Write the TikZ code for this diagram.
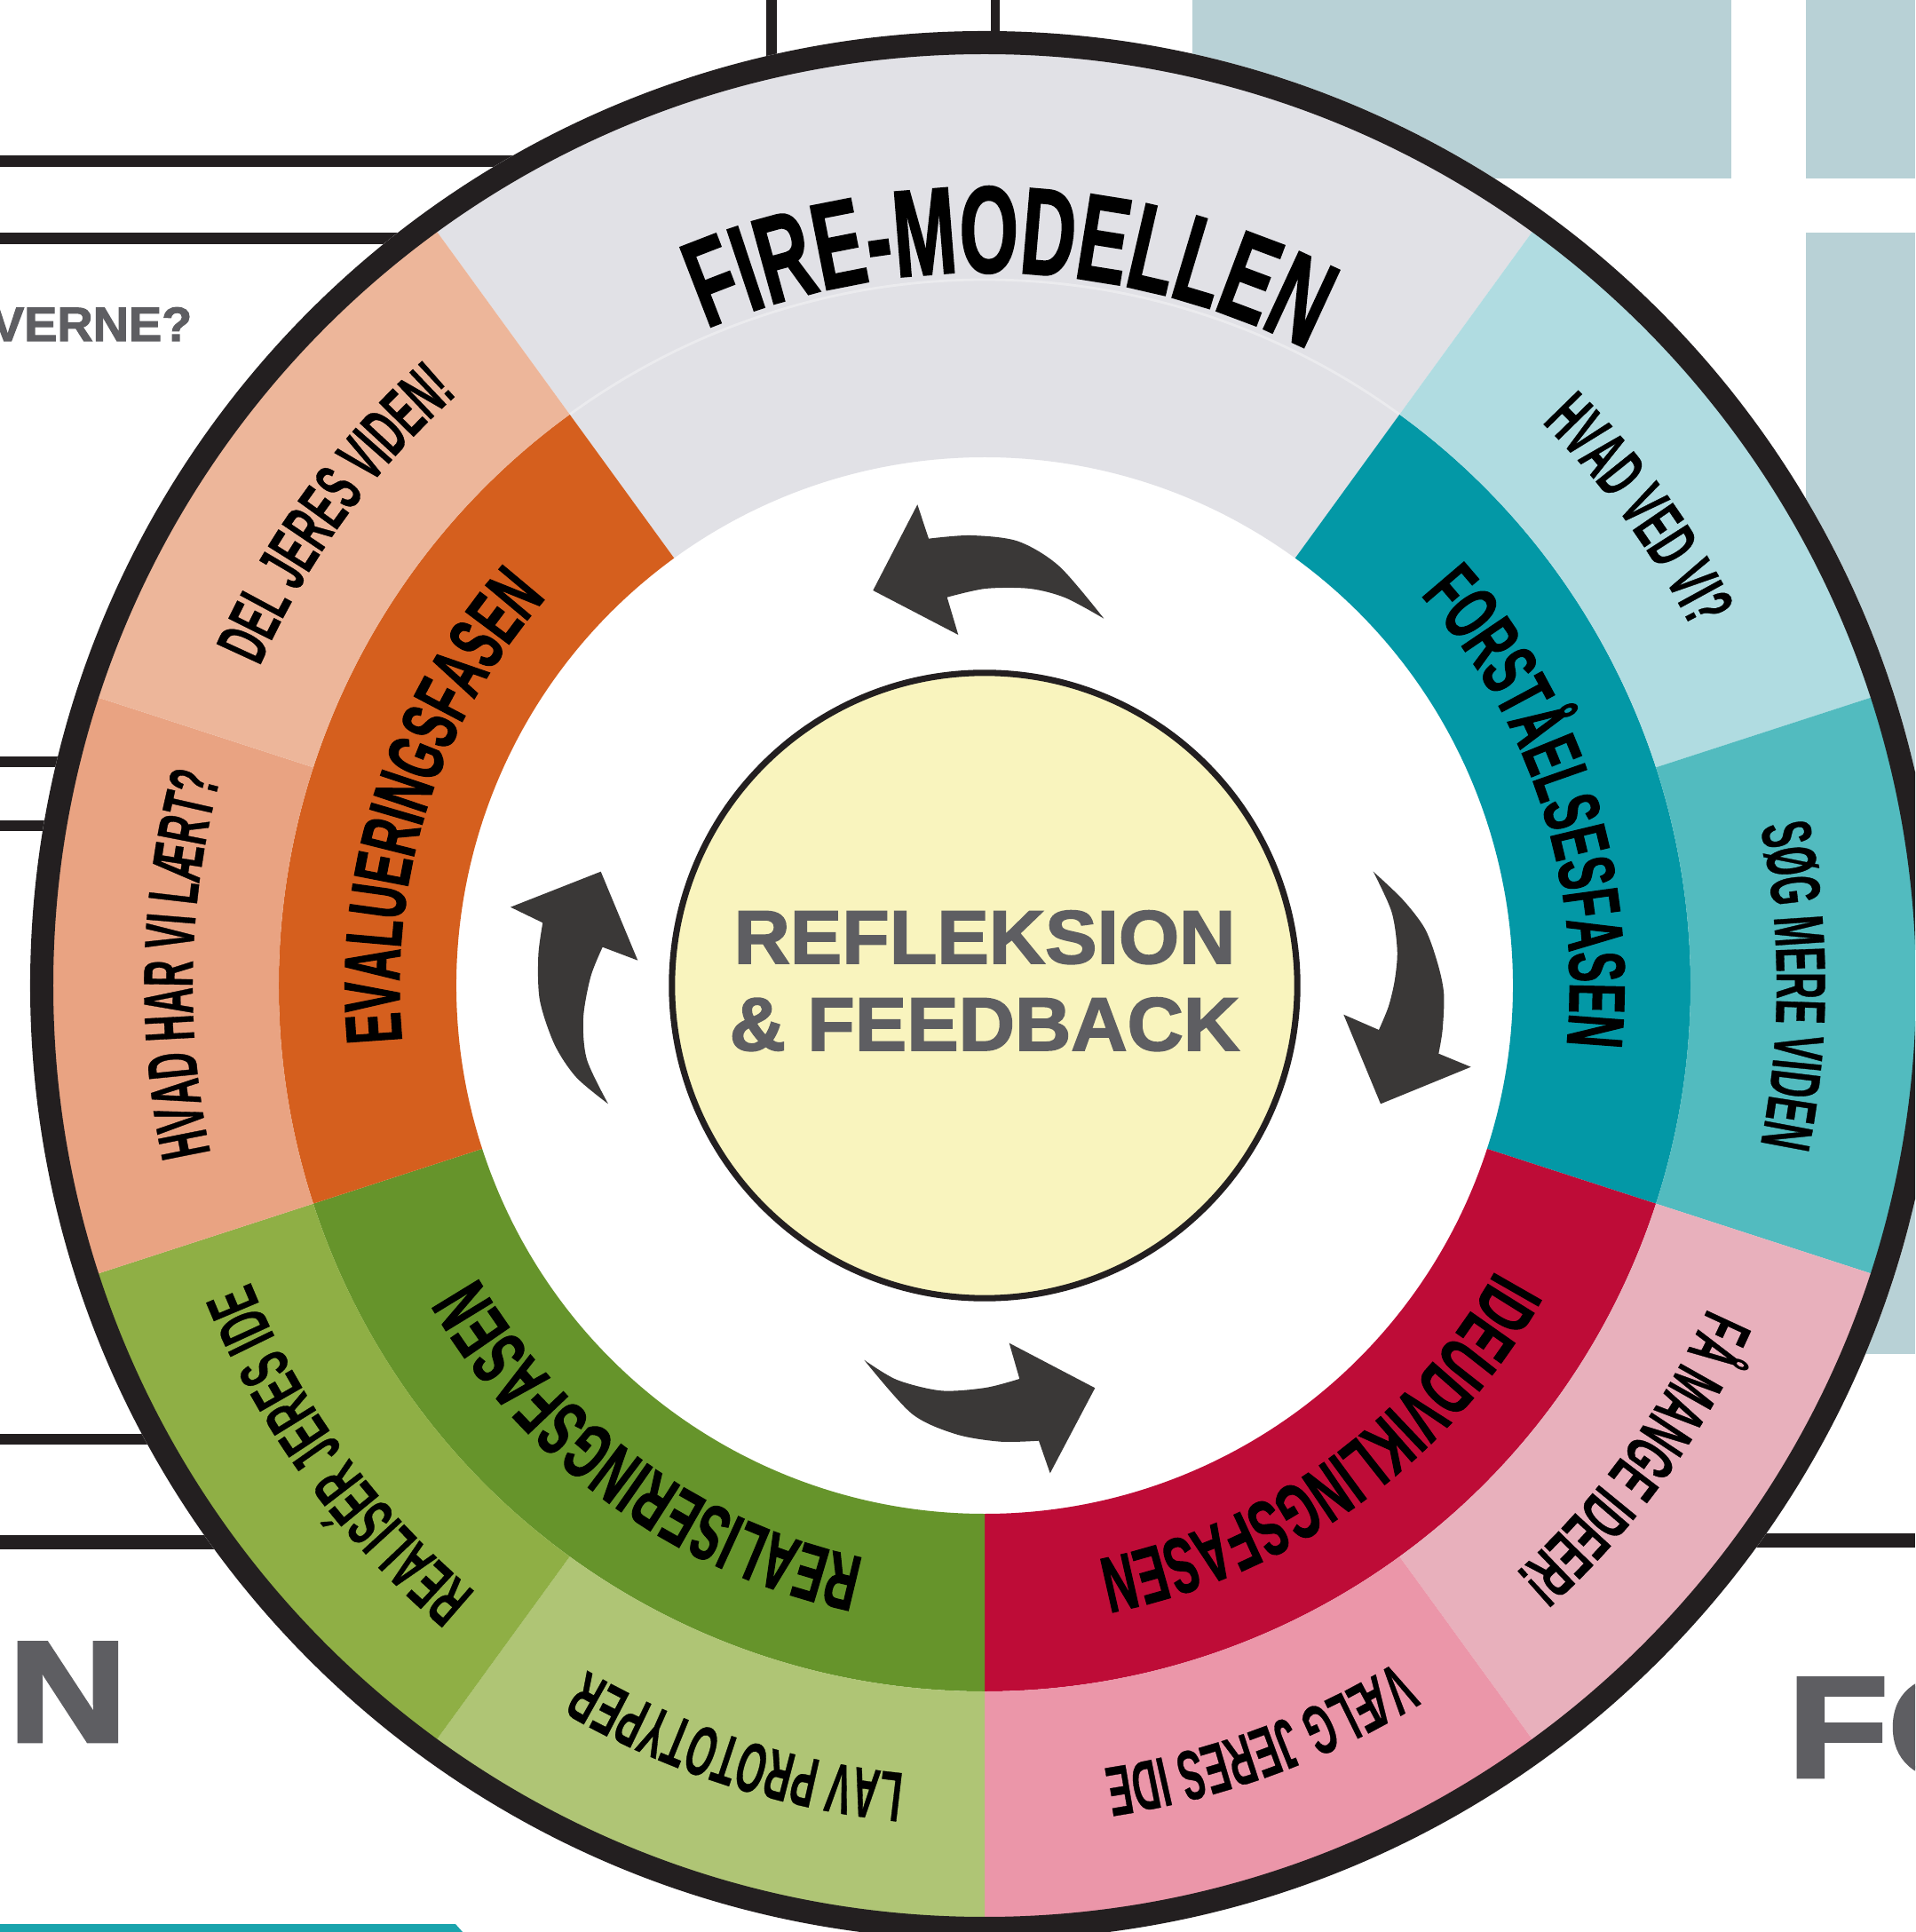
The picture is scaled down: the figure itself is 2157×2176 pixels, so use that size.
\documentclass[tikz,border=0pt]{standalone}
\usepackage{fontspec}
\setmainfont{Liberation Sans}
\newfontfamily\wheelfam[FakeStretch=0.57, FakeBold=1.2]{Liberation Sans}
\newfontfamily\tipfam[FakeStretch=0.52, FakeBold=0.4]{Liberation Sans}
\newfontfamily\titlefam[FakeStretch=0.61, FakeBold=1.2]{Liberation Sans}
\newfontfamily\heavyfam[FakeStretch=1.03, FakeBold=2]{Liberation Sans}
\newfontfamily\blockfam[FakeStretch=1.15, FakeBold=3]{Liberation Sans}
\usetikzlibrary{decorations.text}

% palette
\definecolor{inkdark}{HTML}{231F20}
\definecolor{panelblue}{HTML}{B8D1D6}
\definecolor{headgray}{HTML}{5E5E62}
\definecolor{stripteal}{HTML}{1AA4AD}
\definecolor{titlegray}{HTML}{E1E1E6}
\definecolor{tealdark}{HTML}{0398A6}
\definecolor{teallight}{HTML}{B0DCE1}
\definecolor{tealmid}{HTML}{52BBBF}
\definecolor{reddark}{HTML}{BE0C37}
\definecolor{pinklight}{HTML}{E8B0BC}
\definecolor{pinkmid}{HTML}{EB96A9}
\definecolor{greendark}{HTML}{66942B}
\definecolor{greenmid}{HTML}{8FAF45}
\definecolor{greenlight}{HTML}{AFC575}
\definecolor{orangedark}{HTML}{D55F1E}
\definecolor{orangelight}{HTML}{EDB69A}
\definecolor{orangemid}{HTML}{E9A382}
\definecolor{hubyellow}{HTML}{F9F4BE}
\definecolor{arrowgray}{HTML}{3A3837}

% type faces used on the wheel
\newcommand\phasetype{\wheelfam\bfseries\fontsize{25.4pt}{30pt}\selectfont}
\newcommand\tiptype{\tipfam\bfseries\fontsize{22.6pt}{26pt}\selectfont}
\newcommand\titletype{\titlefam\bfseries\fontsize{39.7pt}{44pt}\selectfont}

% annular sector: colour, start angle, end angle, inner radius, outer radius
\newcommand\wheelsector[5]{%
  \fill[#1] (#2:#4) arc[start angle=#2, end angle=#3, radius=#4]
    -- (#3:#5) arc[start angle=#3, end angle=#2, radius=#5] -- cycle;}

% text set clockwise along an arc, letter tops facing outwards
\newcommand\arctext[5]{%
  \path[decorate, decoration={text along path, text align=center,
      text={|#1|#2}}] (#3:#5) arc[start angle=#3, end angle=#4, radius=#5];}

\tikzset{
  rule/.style={draw=inkdark, line width=#1},
  panel/.style={fill=panelblue},
  swoosh/.style={fill=arrowgray},
  hub/.style={circle, draw=inkdark, line width=2pt, fill=hubyellow,
    minimum size=7.04cm, inner sep=0pt},
  hubtext/.style={text=headgray, font=\heavyfam\bfseries\fontsize{24.2pt}{28pt}\selectfont,
    inner sep=0pt, anchor=base},
  bigletter/.style={text=headgray, font=\blockfam\bfseries\fontsize{45.7pt}{50pt}\selectfont,
    inner sep=0pt, anchor=base west},
}

\begin{document}
\begin{tikzpicture}[x=0.01cm, y=0.01cm]
\useasboundingbox (-1109,-1066) rectangle (1048,1110);
\clip (-1109,-1066) rectangle (1048,1110);
\fill[white] (-1109,-1066) rectangle (1048,1110);

% surrounding poster elements
\fill[panel] (234,909) rectangle (841,1110);
\fill[panel] (925,909) rectangle (1048,1110);
\fill[panel] (925,-415) rectangle (1048,848);

\coordinate (l1a) at (-1109,928);  \coordinate (l1b) at (-400,928);
\coordinate (l2a) at (-1109,841);  \coordinate (l2b) at (-400,841);
\coordinate (l3a) at (-1109,252);  \coordinate (l3b) at (-800,252);
\coordinate (l4a) at (-1109,180);  \coordinate (l4b) at (-800,180);
\coordinate (l5a) at (-1109,-511); \coordinate (l5b) at (-700,-511);
\coordinate (l6a) at (-1109,-627); \coordinate (l6b) at (-700,-627);
\coordinate (r1a) at (600,-625);   \coordinate (r1b) at (1048,-625);
\coordinate (v1a) at (-240,1110);  \coordinate (v1b) at (-240,900);
\coordinate (v2a) at (12,1110);    \coordinate (v2b) at (12,900);
\draw[rule=3.7pt] (l1a) -- (l1b);
\draw[rule=3.7pt] (l2a) -- (l2b);
\draw[rule=3.4pt] (l3a) -- (l3b);
\draw[rule=3.4pt] (l4a) -- (l4b);
\draw[rule=3.4pt] (l5a) -- (l5b);
\draw[rule=4.8pt] (l6a) -- (l6b);
\draw[rule=4.8pt] (r1a) -- (r1b);
\draw[rule=3.2pt] (v1a) -- (v1b);
\draw[rule=2.6pt] (v2a) -- (v2b);

\node[text=headgray, font=\heavyfam\bfseries\fontsize{15.4pt}{18pt}\selectfont,
  inner sep=0pt, anchor=base east] (question) at (-892,726) {VERNE?};
\node[bigletter] (leftletter) at (-1100,-851) {N};
\node[bigletter] (rightletters) at (904,-891) {FO};
\fill[stripteal] (-1109,-1057) -- (-596,-1057) -- (-588,-1066) -- (-1109,-1066) -- cycle;

% wheel body
\fill[white] (0,0) circle (1075);

% title sector
\wheelsector{titlegray}{54}{126}{595}{1050}
\draw[white, opacity=0.35, line width=0.8pt] (126:795) arc[start angle=126, end angle=54, radius=795];

% phase bands
\wheelsector{tealdark}{-18}{54}{595}{795}
\wheelsector{reddark}{-90}{-18}{595}{795}
\wheelsector{greendark}{-162}{-90}{595}{795}
\wheelsector{orangedark}{126}{198}{595}{795}

% outer step bands
\wheelsector{teallight}{18}{54}{795}{1050}
\wheelsector{tealmid}{-18}{18}{795}{1050}
\wheelsector{pinklight}{-54}{-18}{795}{1050}
\wheelsector{pinkmid}{-90}{-54}{795}{1050}
\wheelsector{greenlight}{-126}{-90}{795}{1050}
\wheelsector{greenmid}{-162}{-126}{795}{1050}
\wheelsector{orangemid}{162}{198}{795}{1050}
\wheelsector{orangelight}{126}{162}{795}{1050}

% rim
\draw[draw=inkdark, line width=7.4pt] (0,0) circle (1062);

% hub
\node[hub] (hub) at (0,0) {};
\node[hubtext] (hubline1) at (0,25) {REFLEKSION};
\node[hubtext] (hubline2) at (0,-73) {\& FEEDBACK};

% labels
\arctext{\titletype}{FIRE-MODELLEN}{125}{51}{803}
\arctext{\phasetype}{FORSTÅELSESFASEN}{54}{-18}{659}
\arctext{\phasetype}{IDEUDVIKLINGSFASEN}{-18}{-90}{659}
\arctext{\phasetype}{REALISERINGSFASEN}{-90}{-162}{659}
\arctext{\phasetype}{EVALUERINGSFASEN}{198}{126}{659}

\arctext{\tiptype}{HVAD VED VI?}{54}{18}{892}
\arctext{\tiptype}{SØG MERE VIDEN}{18}{-18}{892}
\arctext{\tiptype}{FÅ MANGE IDEER!}{-18}{-54}{892}
\arctext{\tiptype}{VÆLG JERES IDE}{-52}{-88}{892}
\arctext{\tiptype}{LAV PROTOTYPER}{-90}{-126}{892}
\arctext{\tiptype}{REALISÉR JERES IDE}{-126}{-162}{892}
\arctext{\tiptype}{HVAD HAR VI LÆRT?}{196.5}{160.5}{892}
\arctext{\tiptype}{DEL JERES VIDEN!}{162}{126}{892}

% cycle arrows
\fill[swoosh] (-125.7,445) -- (-75.7,541.7) -- (-63,503.3)
  -- plot[smooth] coordinates {(-63,503.3) (-15.7,507) (37.7,500.3) (84.3,472) (134.3,413.3)}
  -- plot[smooth] coordinates {(134.3,413.3) (91,436.7) (51,447) (1,447) (-42.3,437.3)}
  -- (-29.7,395) -- cycle;

\fill[swoosh] (446,-133.3) -- (547.7,-91.7) -- (511.3,-76.7)
  -- plot[smooth] coordinates {(511.3,-76.7) (515.7,-50) (517.3,-10) (510.7,23.3) (496.3,63.3) (471,96.7) (437.7,128.3)}
  -- plot[smooth] coordinates {(437.7,128.3) (458.3,83.3) (464.7,40) (462,6.7) (455,-23.3) (444,-50)}
  -- (404.3,-32.7) -- cycle;

\fill[swoosh] (124.3,-453.3) -- (27.7,-402.7) -- (39.3,-443)
  -- plot[smooth] coordinates {(39.3,-443) (1,-453) (-49,-456.3) (-99,-444) (-135.7,-421.7)}
  -- plot[smooth] coordinates {(-135.7,-421.7) (-82.3,-482) (-32.3,-505.3) (17.7,-513.7) (61,-512.7)}
  -- (73.7,-549.3) -- cycle;

\fill[swoosh] (-432.3,128.3) -- (-534,88.3) -- (-497.7,70.7)
  -- plot[smooth] coordinates {(-497.7,70.7) (-502.7,33.3) (-501,-16.7) (-484.3,-66.7) (-460,-103.3) (-424,-133.3)}
  -- plot[smooth] coordinates {(-424,-133.3) (-448,-83.3) (-452,-36.7) (-443.7,10) (-430.3,43.3)}
  -- (-390.7,28.3) -- cycle;
\end{tikzpicture}
\end{document}
